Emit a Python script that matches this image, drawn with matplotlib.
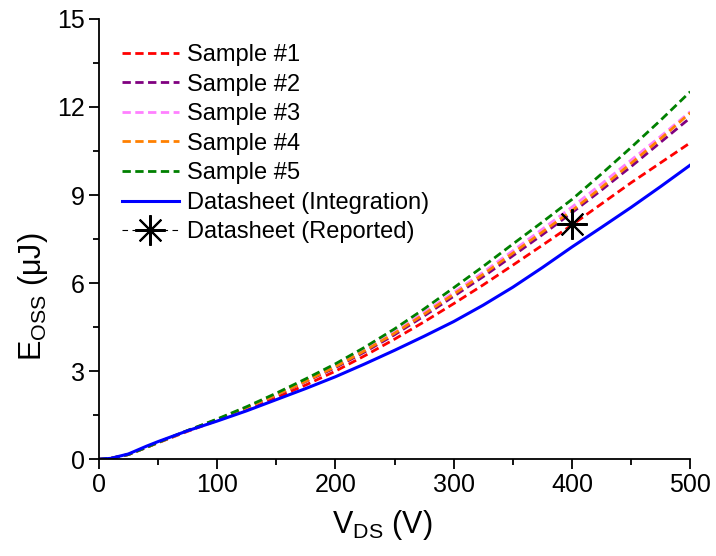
import matplotlib
matplotlib.use("Agg")
import matplotlib.pyplot as plt
from matplotlib.ticker import MultipleLocator

plt.rcParams['font.family'] = ['Liberation Sans', 'DejaVu Sans']
plt.rcParams['mathtext.default'] = 'regular'

# V_DS (V)
vds = [0, 10, 25, 40, 50, 75, 100, 125, 150, 175, 200, 225, 250, 275, 300,
       325, 350, 375, 400, 425, 450, 475, 500]

# E_OSS (uJ)
sample1 = [0, 0.03, 0.16, 0.40, 0.56, 0.95, 1.32, 1.70, 2.10, 2.53, 3.00, 3.53, 4.09,
           4.68, 5.30, 5.94, 6.61, 7.29, 7.98, 8.70, 9.42, 10.10, 10.78]
sample2 = [0, 0.03, 0.16, 0.40, 0.57, 0.97, 1.35, 1.75, 2.18, 2.65, 3.12, 3.66, 4.24,
           4.88, 5.55, 6.22, 6.93, 7.65, 8.40, 9.17, 9.97, 10.80, 11.63]
sample3 = [0, 0.03, 0.16, 0.40, 0.57, 0.97, 1.35, 1.76, 2.20, 2.68, 3.18, 3.74, 4.33,
           5.00, 5.68, 6.37, 7.10, 7.84, 8.59, 9.38, 10.19, 11.00, 11.84]
sample4 = [0, 0.03, 0.16, 0.40, 0.57, 0.97, 1.35, 1.76, 2.19, 2.66, 3.15, 3.70, 4.29,
           4.94, 5.62, 6.30, 7.02, 7.74, 8.47, 9.26, 10.08, 10.92, 11.80]
sample5 = [0, 0.03, 0.16, 0.40, 0.57, 0.98, 1.37, 1.79, 2.25, 2.74, 3.25, 3.82, 4.44,
           5.12, 5.84, 6.57, 7.33, 8.08, 8.85, 9.72, 10.62, 11.55, 12.52]
datasheet = [0, 0.03, 0.18, 0.44, 0.60, 0.97, 1.30, 1.65, 2.03, 2.41, 2.81, 3.25, 3.71,
             4.19, 4.69, 5.25, 5.86, 6.53, 7.23, 7.90, 8.58, 9.29, 10.02]

reported_v = [400]
reported_e = [8.0]

labels = ['Sample #1', 'Sample #2', 'Sample #3', 'Sample #4', 'Sample #5']
colors = ['#ff0000', '#800080', '#ff80ff', '#ff8000', '#008000']
samples = [sample1, sample2, sample3, sample4, sample5]

fig = plt.figure(figsize=(7.16, 5.56), dpi=100)
ax = fig.add_axes([0.138, 0.174, 0.826, 0.792])

for s, c, lab in zip(samples, colors, labels):
    ax.plot(vds, s, color=c, lw=2.0, dashes=(3, 1.6), label=lab)
ax.plot(vds, datasheet, color='#0000ff', lw=2.2, label='Datasheet (Integration)')
ax.plot(reported_v, reported_e, color='black', lw=0.8, ls=(0, (5, 4)),
        marker=(8, 2, 0), markersize=22, markeredgewidth=1.5,
        label='Datasheet (Reported)')

ax.set_xlim(0, 500)
ax.set_ylim(0, 15)
ax.xaxis.set_major_locator(MultipleLocator(100))
ax.xaxis.set_minor_locator(MultipleLocator(50))
ax.yaxis.set_major_locator(MultipleLocator(3))
ax.yaxis.set_minor_locator(MultipleLocator(1.5))
ax.spines['top'].set_visible(False)
ax.spines['right'].set_visible(False)
for sp in ['left', 'bottom']:
    ax.spines[sp].set_linewidth(1.3)
ax.tick_params(which='major', direction='out', length=7, width=1.3, labelsize=18, pad=3)
ax.tick_params(which='minor', direction='out', length=4, width=1.3)

ax.set_xlabel('V$_{DS}$ (V)', fontsize=22)
ax.xaxis.set_label_coords(0.48, -0.11)
ax.set_ylabel('E$_{OSS}$ (μJ)', fontsize=22)
ax.yaxis.set_label_coords(-0.083, 0.37)

ax.legend(loc='upper left', bbox_to_anchor=(0.015, 0.975), frameon=False, fontsize=17,
          handlelength=2.4, handletextpad=0.35, labelspacing=0.32, borderaxespad=0.2)

fig.savefig('out.png', dpi=100)
